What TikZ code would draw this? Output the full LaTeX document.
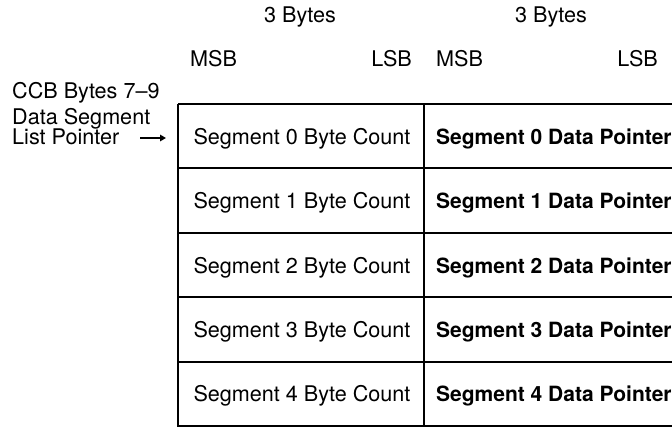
\documentclass[tikz,border=0pt]{standalone}
\usepackage{fontspec}
\setmainfont{TeX Gyre Heros}
\usetikzlibrary{arrows.meta}
\begin{document}
\begin{tikzpicture}[x=1pt,y=-1pt,
  lbl/.style={inner sep=0pt,font=\fontsize{21.6}{25}\selectfont},
  blbl/.style={inner sep=0pt,font=\fontsize{21}{25}\selectfont\bfseries},
  rule/.style={line width=2pt},
  ptr/.style={line width=2pt,-{Triangle[length=6pt,width=6.5pt]}}]
\useasboundingbox (0,0) rectangle (672,427);
\clip (0,0) rectangle (672,427);
\fill[white] (0,0) rectangle (672,427);
% headers
\node[lbl,anchor=base] (b1) at (300,23) {3 Bytes};
\node[lbl,anchor=base] (b2) at (551,23) {3 Bytes};
\node[lbl,anchor=base west] (msb1) at (190,67) {MSB};
\node[lbl,anchor=base east] (lsb1) at (412,67) {LSB};
\node[lbl,anchor=base west] (msb2) at (436,67) {MSB};
\node[lbl,anchor=base east] (lsb2) at (658,67) {LSB};
\node[lbl,anchor=base west] (ccb) at (12,99) {CCB Bytes 7--9};
\node[lbl,anchor=base west] (ds) at (12,125) {Data Segment};
\node[lbl,anchor=base west] (lp) at (12,145) {List Pointer};
\coordinate (a1) at (140,138);
\coordinate (a2) at (166,138);
\draw[ptr] (a1) -- (a2);
% table
\draw[rule] (178,104) -- (700,104);
\draw[rule] (178,104) -- (178,426) -- (700,426);
\draw[rule] (424,104) -- (424,426);
\foreach \i in {1,2,3,4}{
  \draw[rule] (178,104+64.4*\i) -- (700,104+64.4*\i);
}
\foreach \i in {0,1,2,3,4}{
  \node[lbl,anchor=base] (cnt\i) at (302,144.4+64.4*\i) {Segment \i\ Byte Count};
  \node[blbl,anchor=base west] (dp\i) at (436,144.4+64.4*\i) {Segment \i\ Data Pointer};
}
\end{tikzpicture}
\end{document}
